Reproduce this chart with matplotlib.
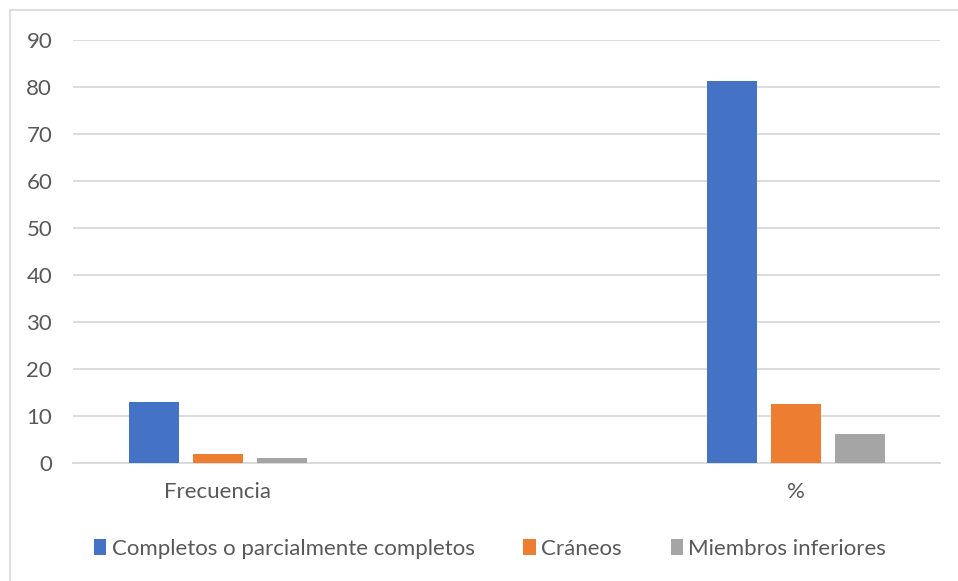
import matplotlib
matplotlib.use("Agg")
import matplotlib.pyplot as plt
from matplotlib.lines import Line2D
from matplotlib.patches import Patch
import numpy as np

categories = ["Frecuencia", "%"]
series_names = ["Completos o parcialmente completos", "Cráneos", "Miembros inferiores"]
completos = [13, 81.25]
craneos = [2, 12.5]
miembros = [1, 6.25]
y_ticks = [0, 10, 20, 30, 40, 50, 60, 70, 80, 90]

colors = ["#4472C4", "#ED7D31", "#A5A5A5"]
text_color = "#595959"
grid_color = "#D9D9D9"

plt.rcParams["font.family"] = ["Lato", "DejaVu Sans"]

W, H = 958, 581
fig = plt.figure(figsize=(W / 100, H / 100), dpi=100)
ax = fig.add_axes([73 / W, (H - 463) / H, (940 - 73) / W, (463 - 40) / H])

x = np.arange(len(categories))
bar_w = 50 / 578
step = 64 / 578
for i, (vals, name) in enumerate(zip([completos, craneos, miembros], series_names)):
    ax.bar(x + (i - 1) * step, vals, width=bar_w, color=colors[i], label=name, zorder=3)

ax.set_xlim(-145 / 578, 1 + 144 / 578)
ax.set_ylim(0, 90)
ax.set_yticks(y_ticks)
ax.set_yticklabels([str(v) for v in y_ticks])
ax.set_xticks(x)
ax.set_xticklabels(categories)
ax.tick_params(axis="y", length=0, pad=15, labelsize=16, labelcolor=text_color)
ax.tick_params(axis="x", length=0, pad=14, labelsize=16, labelcolor=text_color)
ax.yaxis.grid(True, color=grid_color, linewidth=1.3, zorder=0)
for s in ["top", "right", "left"]:
    ax.spines[s].set_visible(False)
ax.spines["bottom"].set_color(grid_color)
ax.spines["bottom"].set_linewidth(1.3)

handles = [Patch(facecolor=c, edgecolor="none") for c in colors]
fig.legend(handles, series_names, loc="center", bbox_to_anchor=(490 / W, 1 - 549 / H),
           ncol=3, frameon=False, fontsize=16, labelcolor=text_color,
           handlelength=0.55, handleheight=0.7, handletextpad=0.25, columnspacing=2.2)

# chart area frame (left and top edges)
fig.add_artist(Line2D([9.5 / W, 9.5 / W], [0, 1 - 10 / H], transform=fig.transFigure,
                      color=grid_color, linewidth=1.2))
fig.add_artist(Line2D([9.5 / W, 1], [1 - 10 / H, 1 - 10 / H], transform=fig.transFigure,
                      color=grid_color, linewidth=1.2))

fig.savefig("out.png", dpi=100, facecolor="white")
